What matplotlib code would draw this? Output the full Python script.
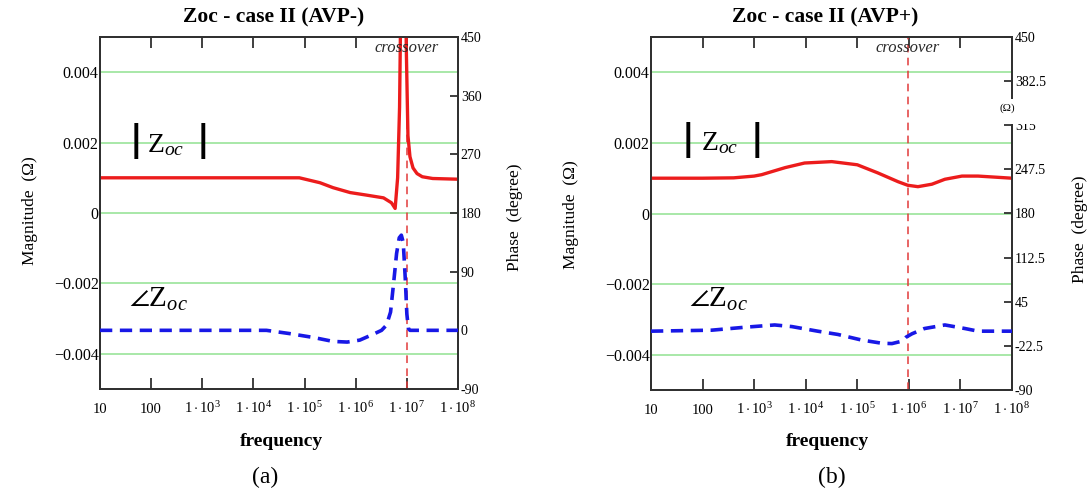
import matplotlib
matplotlib.use("Agg")
import matplotlib.pyplot as plt
from matplotlib.patches import Rectangle
from matplotlib.ticker import NullLocator

plt.rcParams['font.family'] = ['Liberation Serif', 'DejaVu Serif']
plt.rcParams['mathtext.fontset'] = 'custom'
plt.rcParams['mathtext.rm'] = 'Liberation Serif'
plt.rcParams['mathtext.it'] = 'Liberation Serif:italic'
plt.rcParams['mathtext.bf'] = 'Liberation Serif:bold'

W, H = 1091, 492

# ---- axes ticks -------------------------------------------------------
decades = [10, 100, 1e3, 1e4, 1e5, 1e6, 1e7, 1e8]
decade_labels = ['10', '100',
                 r'$\mathrm{1\cdot10^{3}}$', r'$\mathrm{1\cdot10^{4}}$',
                 r'$\mathrm{1\cdot10^{5}}$', r'$\mathrm{1\cdot10^{6}}$',
                 r'$\mathrm{1\cdot10^{7}}$', r'$\mathrm{1\cdot10^{8}}$']

mag_ticks = [-0.004, -0.002, 0.0, 0.002, 0.004]
mag_tick_labels = ['\u22120.004', '\u22120.002', '0', '0.002', '0.004']

phase_ticks_a = [-90, 0, 90, 180, 270, 360, 450]
phase_labels_a = ['-90', '0', '90', '180', '270', '360', '450']
phase_ticks_b = [-90, -22.5, 45, 112.5, 180, 247.5, 315, 382.5, 450]
phase_labels_b = ['-90', '-22.5', '45', '112.5', '180', '247.5', '315', '382.5', '450']

# ---- case II, AVP- ----------------------------------------------------
freq_mag_a = [10, 100, 1e3, 1e4, 7.9e4, 2.0e5, 3.6e5, 7.8e5, 1.6e6, 3.5e6,
              5.0e6, 5.9e6, 6.6e6, 7.2e6, 7.9e6, 8.5e6, 9.1e6, 9.8e6,
              1.05e7, 1.15e7, 1.32e7, 1.58e7, 2.0e7, 3.2e7, 1e8]
mag_a = [0.001, 0.001, 0.001, 0.001, 0.001, 0.00086, 0.00072, 0.00058,
         0.00051, 0.00043, 0.00029, 0.00013, 0.0010, 0.003, 0.008, 0.012,
         0.008, 0.0045, 0.0022, 0.0016, 0.00128, 0.00112, 0.00103, 0.00098,
         0.00096]
freq_ph_a = [10, 100, 1e3, 1e4, 1.8e4, 5.1e4, 1.5e5, 3.6e5, 6.8e5, 1.2e6,
             2.2e6, 3.2e6, 4.0e6, 4.8e6, 5.5e6, 6.3e6, 7.1e6, 7.8e6, 8.5e6,
             9.3e6, 1.0e7, 1.07e7, 1.15e7, 3.2e7, 1e8]
ph_a = [0, 0, 0, 0, 0, -5, -11, -17, -18, -15, -6, 0, 8, 28, 72, 118, 142,
        146, 135, 80, 25, 3, 0, 0, 0]
crossover_a = 1.0e7

# ---- case II, AVP+ ----------------------------------------------------
freq_mag_b = [10, 100, 400, 1e3, 1.4e3, 4.0e3, 9.5e3, 3.2e4, 1e5, 2.5e5,
              6.2e5, 9.5e5, 1.5e6, 2.8e6, 5.0e6, 1.07e7, 2.2e7, 4.7e7, 1e8]
mag_b = [0.001, 0.001, 0.00101, 0.00106, 0.0011, 0.0013, 0.00143, 0.00147,
         0.00138, 0.00115, 0.0009, 0.0008, 0.00076, 0.00083, 0.00097,
         0.00106, 0.00106, 0.00103, 0.001]
freq_ph_b = [10, 150, 660, 2.5e3, 5.4e3, 1.7e4, 4.2e4, 1.2e5, 3.0e5, 4.7e5,
             7.6e5, 8.9e5, 1.15e6, 2.0e6, 5.0e6, 1.23e7, 2.2e7, 1e8]
ph_b = [0, 1.5, 6, 9.5, 7, 0, -5, -13.5, -18.5, -19, -15, -9, -4, 4, 9.5,
        4, 0, 0]
crossover_b = 9.5e5

RED = '#ec1c1c'
BLUE = '#1818e6'
GRID = '#a8e8a8'
SPINE = '#303030'


def fx(px):
    return px / W


def fy(py):
    return 1 - py / H


fig = plt.figure(figsize=(W / 100, H / 100), dpi=100)


def panel(box, fmag, mag, fph, ph, xover, pticks, plabels):
    left, top, right, bottom = box
    ax = fig.add_axes([fx(left), fy(bottom), (right - left) / W, (bottom - top) / H])
    ax.set_xscale('log')
    ax.set_xlim(10, 1e8)
    ax.set_ylim(-0.005, 0.005)
    ax.set_xticks(decades)
    ax.set_xticklabels(decade_labels)
    ax.xaxis.set_minor_locator(NullLocator())
    ax.tick_params(axis='x', which='major', direction='in', length=8,
                   width=1.3, color=SPINE, top=True, labelsize=10.5, pad=17)
    for t in ax.get_xticklabels():
        t.set_va('baseline')
    ax.set_yticks(mag_ticks)
    ax.set_yticklabels(mag_tick_labels)
    ax.tick_params(axis='y', length=0, pad=1, labelsize=11.5)
    ax.grid(axis='y', color=GRID, lw=1.4)
    ax.grid(axis='x', visible=False)
    ax.set_axisbelow(True)
    for s in ax.spines.values():
        s.set_color(SPINE)
        s.set_linewidth(1.3)

    ax.plot(fmag, mag, color=RED, lw=2.4, solid_joinstyle='round', zorder=3)
    ax.axvline(xover, color='#e23a3a', lw=1.1, ls=(0, (5, 3.5)), zorder=2)
    ax.text(xover, 0.969, 'crossover', transform=ax.get_xaxis_transform(),
            ha='center', va='center', style='italic', fontsize=12,
            color='#2a2a2a')

    ax2 = ax.twinx()
    ax2.set_ylim(-90, 450)
    ax2.set_yticks(pticks)
    ax2.set_yticklabels(plabels)
    ax2.tick_params(axis='y', direction='in', length=6, width=1.3,
                    color=SPINE, pad=2, labelsize=10)
    for s in ax2.spines.values():
        s.set_color(SPINE)
        s.set_linewidth(1.3)
    ax2.plot(fph, ph, color=BLUE, lw=2.6, ls=(0, (3.4, 2.1)), zorder=3)
    return ax, ax2


panel((100, 37, 458, 389), freq_mag_a, mag_a, freq_ph_a, ph_a, crossover_a,
      phase_ticks_a, phase_labels_a)
panel((651, 37, 1012, 390), freq_mag_b, mag_b, freq_ph_b, ph_b, crossover_b,
      phase_ticks_b, phase_labels_b)

# titles and axis captions
fig.text(fx(274), fy(17), 'Zoc - case II (AVP-)', ha='center', va='center',
         fontsize=15.5, fontweight='bold')
fig.text(fx(825), fy(17), 'Zoc - case II (AVP+)', ha='center', va='center',
         fontsize=15.5, fontweight='bold')

for xl, yl in ((30, 211), (571, 215)):
    fig.text(fx(xl), fy(yl), 'Magnitude  (\u03a9)', rotation=90,
             ha='center', va='center', fontsize=12.5)
for xr, yr in ((515, 217), (1080, 229)):
    fig.text(fx(xr), fy(yr), 'Phase  (degree)', rotation=90,
             ha='center', va='center', fontsize=12.5)

for xc in (281, 827):
    fig.text(fx(xc), fy(442), 'frequency', ha='center', va='center',
             fontsize=14, fontweight='bold')
fig.text(fx(265), fy(477), '(a)', ha='center', va='center', fontsize=17)
fig.text(fx(832), fy(477), '(b)', ha='center', va='center', fontsize=17)

# curve labels |Zoc| and angle Zoc
for bl, br, zx, yc, zb in ((135.5, 202.5, 147, 141, 152),
                           (688, 757, 701, 140, 150)):
    for bx in (bl, br):
        fig.text(fx(bx), fy(yc), '|', ha='center', va='center',
                 fontsize=25, fontweight='bold', family='DejaVu Sans')
    fig.text(fx(zx), fy(zb), r'$\mathrm{Z}_{oc}$', ha='left', va='baseline',
             fontsize=20)
for ax_, ab in ((129, 307), (689, 307)):
    fig.text(fx(ax_), fy(ab), r'$\angle\mathrm{Z}_{oc}$', ha='left',
             va='baseline', fontsize=21)

# stray unit tag over the right-hand phase scale of panel (b)
fig.add_artist(Rectangle((fx(1008), fy(124)), (1040 - 1008) / W, (124 - 99) / H,
                         transform=fig.transFigure, facecolor='white',
                         edgecolor='none', zorder=5))
fig.text(fx(1007), fy(108.5), '(\u03a9)', ha='center', va='center',
         fontsize=8, zorder=6)

fig.savefig('out.png', dpi=100, facecolor='white')
